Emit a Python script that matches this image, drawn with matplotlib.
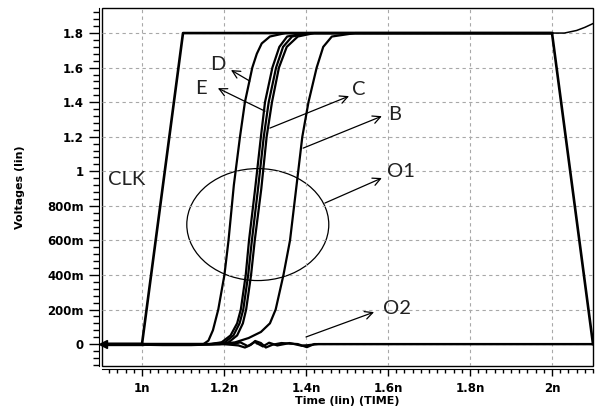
import numpy as np
import matplotlib
matplotlib.use("Agg")
import matplotlib.pyplot as plt
from matplotlib.patches import Ellipse, Rectangle
from matplotlib.ticker import MultipleLocator

plt.rcParams["font.weight"] = "bold"

# Waveforms (time in ns, voltage in V).
clk_t = [0.9, 1.0, 1.1, 2.0, 2.1]
clk_v = [0.0, 0.0, 1.8, 1.8, 0.0]

tail_t = [2.03, 2.06, 2.08, 2.1]
tail_v = [1.80, 1.815, 1.833, 1.855]

d_t = [0.9, 1.15, 1.162, 1.173, 1.186, 1.201, 1.211, 1.224, 1.239, 1.251, 1.269, 1.280, 1.292, 1.312, 1.35, 2.0]
d_v = [0.0, 0.0, 0.02, 0.08, 0.2, 0.4, 0.6, 0.92, 1.2, 1.4, 1.6, 1.68, 1.74, 1.78, 1.8, 1.8]

e_t = [0.9, 1.165, 1.194, 1.216, 1.232, 1.241, 1.253, 1.261, 1.276, 1.290, 1.300, 1.318, 1.335, 1.354, 1.40, 2.0]
e_v = [0.0, 0.0, 0.01, 0.05, 0.12, 0.2, 0.4, 0.6, 0.9, 1.2, 1.4, 1.6, 1.72, 1.78, 1.8, 1.8]

c_t = [0.9, 1.17, 1.202, 1.223, 1.238, 1.247, 1.259, 1.268, 1.283, 1.297, 1.309, 1.327, 1.344, 1.366, 1.41, 2.0]
c_v = [0.0, 0.0, 0.01, 0.05, 0.12, 0.2, 0.4, 0.6, 0.9, 1.2, 1.4, 1.6, 1.72, 1.78, 1.8, 1.8]

a_t = [0.9, 1.175, 1.211, 1.232, 1.246, 1.254, 1.266, 1.275, 1.291, 1.304, 1.317, 1.334, 1.353, 1.38, 1.42, 2.0]
a_v = [0.0, 0.0, 0.01, 0.05, 0.12, 0.2, 0.4, 0.6, 0.9, 1.2, 1.4, 1.6, 1.72, 1.78, 1.8, 1.8]

b_t = [0.9, 1.19, 1.227, 1.260, 1.290, 1.312, 1.326, 1.345, 1.361, 1.376, 1.391, 1.406, 1.426, 1.442, 1.463, 1.52, 2.0]
b_v = [0.0, 0.0, 0.01, 0.035, 0.07, 0.12, 0.2, 0.4, 0.6, 0.9, 1.2, 1.4, 1.6, 1.72, 1.78, 1.8, 1.8]

o1_t = [0.9, 1.05, 1.12, 1.2, 1.235, 1.251, 1.265, 1.276, 1.29, 1.302, 1.318, 1.34, 1.38, 1.402, 1.42, 2.1]
o1_v = [0.0, -0.006, -0.006, 0.0, -0.008, -0.02, -0.005, 0.018, 0.006, -0.02, -0.004, 0.006, 0.0, -0.018, 0.0, 0.0]

o2_t = [0.9, 1.22, 1.24, 1.258, 1.275, 1.295, 1.31, 1.33, 1.36, 1.39, 1.43, 2.1]
o2_v = [0.0, 0.0, 0.01, -0.012, 0.012, -0.014, 0.008, -0.008, 0.006, -0.01, 0.0, 0.0]

x_ticks = [1.0, 1.2, 1.4, 1.6, 1.8, 2.0]
x_labels = ["1n", "1.2n", "1.4n", "1.6n", "1.8n", "2n"]
y_ticks = [0.0, 0.2, 0.4, 0.6, 0.8, 1.0, 1.2, 1.4, 1.6, 1.8]
y_labels = ["0", "200m", "400m", "600m", "800m", "1", "1.2", "1.4", "1.6", "1.8"]

# label, text position, arrow tail, arrow tip
notes = [
    ("D", (1.166, 1.62), (1.263, 1.522), (1.217, 1.586)),
    ("E", (1.129, 1.481), (1.300, 1.348), (1.185, 1.481)),
    ("C", (1.512, 1.476), (1.312, 1.25), (1.505, 1.435)),
    ("B", (1.600, 1.331), (1.393, 1.134), (1.585, 1.319)),
    ("O1", (1.598, 1.001), (1.446, 0.816), (1.585, 0.961)),
    ("O2", (1.588, 0.208), (1.400, 0.041), (1.566, 0.185)),
]

fig = plt.figure(figsize=(6.01, 4.09), dpi=100)
ax = fig.add_axes([0.1697, 0.1051, 0.817, 0.8753])

lw = 1.6
ax.plot(o1_t, o1_v, color="black", lw=lw)
ax.plot(o2_t, o2_v, color="black", lw=lw)
for t, v in [(d_t, d_v), (e_t, e_v), (c_t, c_v), (a_t, a_v), (b_t, b_v)]:
    ax.plot(t, v, color="black", lw=lw)
ax.plot([2.0] + tail_t, [1.8] + tail_v, color="black", lw=1.1)
ax.plot(clk_t, clk_v, color="black", lw=1.9)
ax.plot([0.9, 1.0], [0.0, 0.0], color="black", lw=2.4)
ax.plot([0.905], [0.0], marker="<", ms=6, color="black", clip_on=False)

ax.add_patch(Ellipse((1.2824, 0.6916), 0.3463, 0.648, fill=False, lw=0.9, color="black"))

note_font = dict(fontsize=14.5, family=["Lato", "DejaVu Sans"], fontweight="normal",
                 ha="left", va="center", color="#222222")
ax.text(0.917, 0.955, "CLK", **note_font)
for label, pos, tail, tip in notes:
    ax.text(pos[0], pos[1], label, **note_font)
    ax.annotate("", xy=tip, xytext=tail,
                arrowprops=dict(arrowstyle="->", lw=0.9, color="black",
                                mutation_scale=14, shrinkA=0, shrinkB=0))

ax.set_xlim(0.9024, 2.1)
ax.set_ylim(-0.127, 1.945)
ax.set_xticks(x_ticks)
ax.set_xticklabels(x_labels)
ax.set_yticks(y_ticks)
ax.set_yticklabels(y_labels)
ax.xaxis.set_minor_locator(MultipleLocator(0.02))
ax.yaxis.set_minor_locator(MultipleLocator(0.04))
ax.grid(True, which="major", color="#a8a8a8", linestyle=(0, (3, 3)), lw=0.8)

ax.tick_params(axis="both", which="major", labelsize=8.5)
ax.tick_params(axis="y", which="major", length=7, width=1.0, pad=4)
ax.tick_params(axis="y", which="minor", length=4.3, width=1.0)
ax.tick_params(axis="x", which="major", length=5, width=1.0, pad=4)
ax.tick_params(axis="x", which="minor", length=3, width=1.0)

# offset axis lines like the simulator plot, plus the inner frame
ax.spines["left"].set_position(("outward", 2.2))
ax.spines["bottom"].set_position(("outward", 2.2))
ax.spines["top"].set_visible(False)
ax.spines["right"].set_visible(False)
ax.add_patch(Rectangle((0, 0), 1, 1, transform=ax.transAxes, fill=False,
                       lw=1.0, color="black", clip_on=False))

ax.set_xlabel("Time (lin) (TIME)", fontsize=8, fontweight="bold", labelpad=1)
ax.set_ylabel("Voltages (lin)", fontsize=8, fontweight="bold")
ax.yaxis.set_label_coords(-0.157, 0.5)

fig.savefig("out.png", dpi=100)
